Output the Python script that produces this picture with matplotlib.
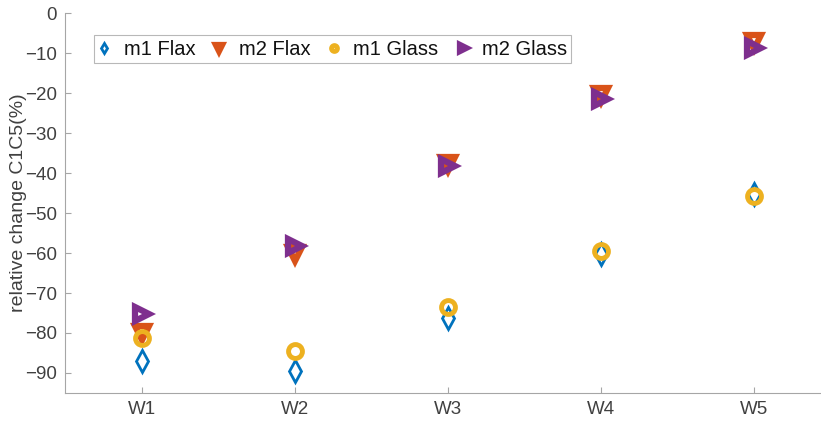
import numpy as np
import matplotlib.pyplot as plt

plt.rcParams["font.family"] = ["Liberation Sans", "DejaVu Sans"]

weeks = ["W1", "W2", "W3", "W4", "W5"]
m1_flax = [-87.0, -89.5, -76.2, -60.3, -45.2]
m2_flax = [-80.0, -60.3, -37.8, -20.5, -7.2]
m1_glass = [-81.2, -84.5, -73.5, -59.5, -45.8]
m2_glass = [-75.2, -58.3, -38.2, -21.6, -8.8]

x = np.arange(1, len(weeks) + 1)

fig = plt.figure(figsize=(8.21, 4.23), dpi=100)
ax = fig.add_axes([0.0792, 0.071, 0.921, 0.898])

gray = "#404040"
ax.plot(x, m1_flax, "d", ls="none", ms=11, mfc="none", mec="#0072BD", mew=2,
        label="m1 Flax")
ax.plot(x, m2_flax, "v", ls="none", ms=10.5, mfc="none", mec="#D95319", mew=4.5,
        label="m2 Flax")
ax.plot(x, m1_glass, "o", ls="none", ms=10, mfc="none", mec="#EDB120", mew=3.5,
        label="m1 Glass")
ax.plot(x, m2_glass, ">", ls="none", ms=10.5, mfc="none", mec="#7E2F8E", mew=4.5,
        label="m2 Glass")

ax.set_xlim(0.5, 5.44)
ax.set_ylim(-95, 0)
ax.set_xticks(x)
ax.set_xticklabels(weeks)
ax.set_yticks(np.arange(-90, 1, 10))
ax.set_ylabel("relative change C1C5(%)", fontsize=14, color=gray)
ax.yaxis.set_label_coords(-0.050, 0.5)

for s in ["top", "right"]:
    ax.spines[s].set_visible(False)
for s in ["left", "bottom"]:
    ax.spines[s].set_color("#a6a6a6")
    ax.spines[s].set_linewidth(0.8)
ax.tick_params(direction="in", length=4, color="#a6a6a6", labelsize=13.5,
               labelcolor=gray, pad=6)

leg = ax.legend(loc="upper left", bbox_to_anchor=(0.025, 0.968), ncol=4,
                fontsize=14.5, frameon=True, fancybox=False, edgecolor="#a6a6a6",
                handlelength=0.6, handletextpad=0.65, columnspacing=0.9,
                borderpad=0.22, markerscale=0.42)
leg.get_frame().set_linewidth(0.8)
for t in leg.get_texts():
    t.set_color("#111111")

fig.savefig("out.png", dpi=100)
